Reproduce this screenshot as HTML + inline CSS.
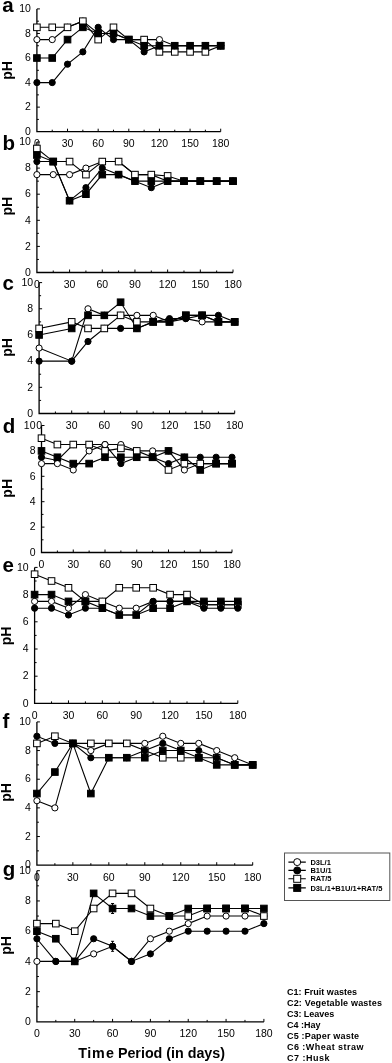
<!DOCTYPE html>
<html><head><meta charset="utf-8"><style>
html,body{margin:0;padding:0;background:#fff;}
body{width:392px;height:1063px;overflow:hidden;}
svg{display:block;filter:blur(0.3px);}
text{font-family:"Liberation Sans", sans-serif;fill:#000;}
.ax{fill:none;stroke:#000;stroke-width:1.3;}
.tk{fill:none;stroke:#000;stroke-width:1;}
.ln{fill:none;stroke:#000;stroke-width:1.1;}
.o{fill:#fff;stroke:#000;stroke-width:1;}
.k{fill:#000;stroke:#000;stroke-width:1;}
.yl{font-size:10.5px;text-anchor:end;}
.xl{font-size:10.5px;text-anchor:middle;}
.pl{font-size:20.5px;font-weight:bold;}
.ph{font-size:14px;font-weight:bold;text-anchor:middle;}
.lg{fill:#fff;stroke:#555;stroke-width:1;}
.lt{font-size:7.5px;font-weight:bold;}
.ct{font-size:9px;font-weight:bold;}
.tt{font-size:14.3px;font-weight:bold;}
</style></head><body>
<svg width="392" height="1063" viewBox="0 0 392 1063">
<path d="M36.9 8.9V131.7H220.7" class="ax"/>
<path d="M36.9 119.42h2M36.9 107.14h3M36.9 94.86h2M36.9 82.58h3M36.9 70.3h2M36.9 58.02h3M36.9 45.74h2M36.9 33.46h3M36.9 21.18h2M36.9 8.9h3M52.22 131.7v-2M67.53 131.7v-3M82.85 131.7v-2M98.17 131.7v-3M113.48 131.7v-2M128.8 131.7v-3M144.12 131.7v-2M159.43 131.7v-3M174.75 131.7v-2M190.07 131.7v-3M205.38 131.7v-2M220.7 131.7v-3" class="tk"/>
<text x="30.9" y="134.9" class="yl">0</text>
<text x="30.9" y="110.34" class="yl">2</text>
<text x="30.9" y="85.78" class="yl">4</text>
<text x="30.9" y="61.22" class="yl">6</text>
<text x="30.9" y="36.66" class="yl">8</text>
<text x="30.9" y="12.1" class="yl">10</text>
<text x="36.9" y="147.2" class="xl">0</text>
<text x="67.53" y="147.2" class="xl">30</text>
<text x="98.17" y="147.2" class="xl">60</text>
<text x="128.8" y="147.2" class="xl">90</text>
<text x="159.43" y="147.2" class="xl">120</text>
<text x="190.07" y="147.2" class="xl">150</text>
<text x="220.7" y="147.2" class="xl">180</text>
<polyline points="36.9,39.6 52.22,39.6 67.53,27.32 82.85,21.18 98.17,33.46 113.48,33.46 128.8,39.6 144.12,39.6 159.43,39.6 174.75,45.74 190.07,45.74 205.38,45.74 220.7,45.74" class="ln"/>
<polyline points="36.9,82.58 52.22,82.58 67.53,64.16 82.85,51.88 98.17,27.32 113.48,39.6 128.8,39.6 144.12,51.88 159.43,45.74 174.75,45.74 190.07,45.74 205.38,45.74 220.7,45.74" class="ln"/>
<polyline points="36.9,27.32 52.22,27.32 67.53,27.32 82.85,21.18 98.17,39.6 113.48,27.32 128.8,39.6 144.12,39.6 159.43,51.88 174.75,51.88 190.07,51.88 205.38,51.88 220.7,45.74" class="ln"/>
<polyline points="36.9,58.02 52.22,58.02 67.53,39.6 82.85,27.32 98.17,33.46 113.48,33.46 128.8,39.6 144.12,45.74 159.43,45.74 174.75,45.74 190.07,45.74 205.38,45.74 220.7,45.74" class="ln"/>
<circle cx="36.9" cy="39.6" r="3.1" class="o"/>
<circle cx="52.22" cy="39.6" r="3.1" class="o"/>
<circle cx="67.53" cy="27.32" r="3.1" class="o"/>
<circle cx="82.85" cy="21.18" r="3.1" class="o"/>
<circle cx="98.17" cy="33.46" r="3.1" class="o"/>
<circle cx="113.48" cy="33.46" r="3.1" class="o"/>
<circle cx="128.8" cy="39.6" r="3.1" class="o"/>
<circle cx="144.12" cy="39.6" r="3.1" class="o"/>
<circle cx="159.43" cy="39.6" r="3.1" class="o"/>
<circle cx="174.75" cy="45.74" r="3.1" class="o"/>
<circle cx="190.07" cy="45.74" r="3.1" class="o"/>
<circle cx="205.38" cy="45.74" r="3.1" class="o"/>
<circle cx="220.7" cy="45.74" r="3.1" class="o"/>
<rect x="33.6" y="24.02" width="6.6" height="6.6" class="o"/>
<rect x="48.92" y="24.02" width="6.6" height="6.6" class="o"/>
<rect x="64.23" y="24.02" width="6.6" height="6.6" class="o"/>
<rect x="79.55" y="17.88" width="6.6" height="6.6" class="o"/>
<rect x="94.87" y="36.3" width="6.6" height="6.6" class="o"/>
<rect x="110.18" y="24.02" width="6.6" height="6.6" class="o"/>
<rect x="125.5" y="36.3" width="6.6" height="6.6" class="o"/>
<rect x="140.82" y="36.3" width="6.6" height="6.6" class="o"/>
<rect x="156.13" y="48.58" width="6.6" height="6.6" class="o"/>
<rect x="171.45" y="48.58" width="6.6" height="6.6" class="o"/>
<rect x="186.77" y="48.58" width="6.6" height="6.6" class="o"/>
<rect x="202.08" y="48.58" width="6.6" height="6.6" class="o"/>
<rect x="217.4" y="42.44" width="6.6" height="6.6" class="o"/>
<circle cx="36.9" cy="82.58" r="3.1" class="k"/>
<circle cx="52.22" cy="82.58" r="3.1" class="k"/>
<circle cx="67.53" cy="64.16" r="3.1" class="k"/>
<circle cx="82.85" cy="51.88" r="3.1" class="k"/>
<circle cx="98.17" cy="27.32" r="3.1" class="k"/>
<circle cx="113.48" cy="39.6" r="3.1" class="k"/>
<circle cx="128.8" cy="39.6" r="3.1" class="k"/>
<circle cx="144.12" cy="51.88" r="3.1" class="k"/>
<circle cx="159.43" cy="45.74" r="3.1" class="k"/>
<circle cx="174.75" cy="45.74" r="3.1" class="k"/>
<circle cx="190.07" cy="45.74" r="3.1" class="k"/>
<circle cx="205.38" cy="45.74" r="3.1" class="k"/>
<circle cx="220.7" cy="45.74" r="3.1" class="k"/>
<rect x="33.6" y="54.72" width="6.6" height="6.6" class="k"/>
<rect x="48.92" y="54.72" width="6.6" height="6.6" class="k"/>
<rect x="64.23" y="36.3" width="6.6" height="6.6" class="k"/>
<rect x="79.55" y="24.02" width="6.6" height="6.6" class="k"/>
<rect x="94.87" y="30.16" width="6.6" height="6.6" class="k"/>
<rect x="110.18" y="30.16" width="6.6" height="6.6" class="k"/>
<rect x="125.5" y="36.3" width="6.6" height="6.6" class="k"/>
<rect x="140.82" y="42.44" width="6.6" height="6.6" class="k"/>
<rect x="156.13" y="42.44" width="6.6" height="6.6" class="k"/>
<rect x="171.45" y="42.44" width="6.6" height="6.6" class="k"/>
<rect x="186.77" y="42.44" width="6.6" height="6.6" class="k"/>
<rect x="202.08" y="42.44" width="6.6" height="6.6" class="k"/>
<rect x="217.4" y="42.44" width="6.6" height="6.6" class="k"/>
<text x="2.2" y="12.1" class="pl">a</text>
<text transform="translate(12.3 70.35) rotate(-90)" class="ph">pH</text>
<path d="M36.9 142V272.5H233" class="ax"/>
<path d="M36.9 259.45h2M36.9 246.4h3M36.9 233.35h2M36.9 220.3h3M36.9 207.25h2M36.9 194.2h3M36.9 181.15h2M36.9 168.1h3M36.9 155.05h2M36.9 142h3M53.24 272.5v-2M69.58 272.5v-3M85.92 272.5v-2M102.27 272.5v-3M118.61 272.5v-2M134.95 272.5v-3M151.29 272.5v-2M167.63 272.5v-3M183.97 272.5v-2M200.32 272.5v-3M216.66 272.5v-2M233 272.5v-3" class="tk"/>
<text x="30.9" y="275.7" class="yl">0</text>
<text x="30.9" y="249.6" class="yl">2</text>
<text x="30.9" y="223.5" class="yl">4</text>
<text x="30.9" y="197.4" class="yl">6</text>
<text x="30.9" y="171.3" class="yl">8</text>
<text x="30.9" y="145.2" class="yl">10</text>
<text x="36.9" y="288" class="xl">0</text>
<text x="69.58" y="288" class="xl">30</text>
<text x="102.27" y="288" class="xl">60</text>
<text x="134.95" y="288" class="xl">90</text>
<text x="167.63" y="288" class="xl">120</text>
<text x="200.32" y="288" class="xl">150</text>
<text x="233" y="288" class="xl">180</text>
<polyline points="36.9,174.62 53.24,174.62 69.58,174.62 85.92,168.1 102.27,161.57 118.61,161.57 134.95,174.62 151.29,174.62 167.63,181.15 183.97,181.15 200.32,181.15 216.66,181.15 233,181.15" class="ln"/>
<polyline points="36.9,161.57 53.24,161.57 69.58,200.72 85.92,187.68 102.27,168.1 118.61,174.62 134.95,181.15 151.29,187.68 167.63,181.15 183.97,181.15 200.32,181.15 216.66,181.15 233,181.15" class="ln"/>
<polyline points="36.9,148.53 53.24,161.57 69.58,161.57 85.92,174.62 102.27,161.57 118.61,161.57 134.95,174.62 151.29,174.62 167.63,175.93 183.97,181.15 200.32,181.15 216.66,181.15 233,181.15" class="ln"/>
<polyline points="36.9,155.05 53.24,161.57 69.58,200.72 85.92,194.2 102.27,174.62 118.61,174.62 134.95,181.15 151.29,181.15 167.63,181.15 183.97,181.15 200.32,181.15 216.66,181.15 233,181.15" class="ln"/>
<circle cx="36.9" cy="174.62" r="3.1" class="o"/>
<circle cx="53.24" cy="174.62" r="3.1" class="o"/>
<circle cx="69.58" cy="174.62" r="3.1" class="o"/>
<circle cx="85.92" cy="168.1" r="3.1" class="o"/>
<circle cx="102.27" cy="161.57" r="3.1" class="o"/>
<circle cx="118.61" cy="161.57" r="3.1" class="o"/>
<circle cx="134.95" cy="174.62" r="3.1" class="o"/>
<circle cx="151.29" cy="174.62" r="3.1" class="o"/>
<circle cx="167.63" cy="181.15" r="3.1" class="o"/>
<circle cx="183.97" cy="181.15" r="3.1" class="o"/>
<circle cx="200.32" cy="181.15" r="3.1" class="o"/>
<circle cx="216.66" cy="181.15" r="3.1" class="o"/>
<circle cx="233" cy="181.15" r="3.1" class="o"/>
<rect x="33.6" y="145.22" width="6.6" height="6.6" class="o"/>
<rect x="49.94" y="158.27" width="6.6" height="6.6" class="o"/>
<rect x="66.28" y="158.27" width="6.6" height="6.6" class="o"/>
<rect x="82.62" y="171.32" width="6.6" height="6.6" class="o"/>
<rect x="98.97" y="158.27" width="6.6" height="6.6" class="o"/>
<rect x="115.31" y="158.27" width="6.6" height="6.6" class="o"/>
<rect x="131.65" y="171.32" width="6.6" height="6.6" class="o"/>
<rect x="147.99" y="171.32" width="6.6" height="6.6" class="o"/>
<rect x="164.33" y="172.63" width="6.6" height="6.6" class="o"/>
<rect x="180.67" y="177.85" width="6.6" height="6.6" class="o"/>
<rect x="197.02" y="177.85" width="6.6" height="6.6" class="o"/>
<rect x="213.36" y="177.85" width="6.6" height="6.6" class="o"/>
<rect x="229.7" y="177.85" width="6.6" height="6.6" class="o"/>
<circle cx="36.9" cy="161.57" r="3.1" class="k"/>
<circle cx="53.24" cy="161.57" r="3.1" class="k"/>
<circle cx="69.58" cy="200.72" r="3.1" class="k"/>
<circle cx="85.92" cy="187.68" r="3.1" class="k"/>
<circle cx="102.27" cy="168.1" r="3.1" class="k"/>
<circle cx="118.61" cy="174.62" r="3.1" class="k"/>
<circle cx="134.95" cy="181.15" r="3.1" class="k"/>
<circle cx="151.29" cy="187.68" r="3.1" class="k"/>
<circle cx="167.63" cy="181.15" r="3.1" class="k"/>
<circle cx="183.97" cy="181.15" r="3.1" class="k"/>
<circle cx="200.32" cy="181.15" r="3.1" class="k"/>
<circle cx="216.66" cy="181.15" r="3.1" class="k"/>
<circle cx="233" cy="181.15" r="3.1" class="k"/>
<rect x="33.6" y="151.75" width="6.6" height="6.6" class="k"/>
<rect x="49.94" y="158.27" width="6.6" height="6.6" class="k"/>
<rect x="66.28" y="197.42" width="6.6" height="6.6" class="k"/>
<rect x="82.62" y="190.9" width="6.6" height="6.6" class="k"/>
<rect x="98.97" y="171.32" width="6.6" height="6.6" class="k"/>
<rect x="115.31" y="171.32" width="6.6" height="6.6" class="k"/>
<rect x="131.65" y="177.85" width="6.6" height="6.6" class="k"/>
<rect x="147.99" y="177.85" width="6.6" height="6.6" class="k"/>
<rect x="164.33" y="177.85" width="6.6" height="6.6" class="k"/>
<rect x="180.67" y="177.85" width="6.6" height="6.6" class="k"/>
<rect x="197.02" y="177.85" width="6.6" height="6.6" class="k"/>
<rect x="213.36" y="177.85" width="6.6" height="6.6" class="k"/>
<rect x="229.7" y="177.85" width="6.6" height="6.6" class="k"/>
<text x="2.4" y="149.8" class="pl">b</text>
<text transform="translate(11.6 206.1) rotate(-90)" class="ph">pH</text>
<path d="M39.1 282.6V413.5H234.7" class="ax"/>
<path d="M39.1 400.41h2M39.1 387.32h3M39.1 374.23h2M39.1 361.14h3M39.1 348.05h2M39.1 334.96h3M39.1 321.87h2M39.1 308.78h3M39.1 295.69h2M39.1 282.6h3M55.4 413.5v-2M71.7 413.5v-3M88 413.5v-2M104.3 413.5v-3M120.6 413.5v-2M136.9 413.5v-3M153.2 413.5v-2M169.5 413.5v-3M185.8 413.5v-2M202.1 413.5v-3M218.4 413.5v-2M234.7 413.5v-3" class="tk"/>
<text x="33.1" y="416.7" class="yl">0</text>
<text x="33.1" y="390.52" class="yl">2</text>
<text x="33.1" y="364.34" class="yl">4</text>
<text x="33.1" y="338.16" class="yl">6</text>
<text x="33.1" y="311.98" class="yl">8</text>
<text x="33.1" y="285.8" class="yl">10</text>
<text x="39.1" y="429" class="xl">0</text>
<text x="71.7" y="429" class="xl">30</text>
<text x="104.3" y="429" class="xl">60</text>
<text x="136.9" y="429" class="xl">90</text>
<text x="169.5" y="429" class="xl">120</text>
<text x="202.1" y="429" class="xl">150</text>
<text x="234.7" y="429" class="xl">180</text>
<polyline points="39.1,348.05 71.7,361.14 88,308.78 104.3,315.33 120.6,315.33 136.9,315.33 153.2,315.33 169.5,321.87 185.8,318.6 202.1,321.87 218.4,321.87 234.7,321.87" class="ln"/>
<polyline points="39.1,361.14 71.7,361.14 88,341.5 104.3,328.42 120.6,328.42 136.9,328.42 153.2,321.87 169.5,318.6 185.8,318.6 202.1,315.33 218.4,315.33 234.7,321.87" class="ln"/>
<polyline points="39.1,328.42 71.7,321.87 88,328.42 104.3,328.42 120.6,315.33 136.9,321.87 153.2,321.87 169.5,321.87 185.8,315.33 202.1,315.33 218.4,321.87 234.7,321.87" class="ln"/>
<polyline points="39.1,334.96 71.7,328.42 88,315.33 104.3,315.33 120.6,302.24 136.9,328.42 153.2,321.87 169.5,321.87 185.8,315.33 202.1,315.33 218.4,321.87 234.7,321.87" class="ln"/>
<circle cx="39.1" cy="348.05" r="3.1" class="o"/>
<circle cx="71.7" cy="361.14" r="3.1" class="o"/>
<circle cx="88" cy="308.78" r="3.1" class="o"/>
<circle cx="104.3" cy="315.33" r="3.1" class="o"/>
<circle cx="120.6" cy="315.33" r="3.1" class="o"/>
<circle cx="136.9" cy="315.33" r="3.1" class="o"/>
<circle cx="153.2" cy="315.33" r="3.1" class="o"/>
<circle cx="169.5" cy="321.87" r="3.1" class="o"/>
<circle cx="185.8" cy="318.6" r="3.1" class="o"/>
<circle cx="202.1" cy="321.87" r="3.1" class="o"/>
<circle cx="218.4" cy="321.87" r="3.1" class="o"/>
<circle cx="234.7" cy="321.87" r="3.1" class="o"/>
<circle cx="39.1" cy="361.14" r="3.1" class="k"/>
<circle cx="71.7" cy="361.14" r="3.1" class="k"/>
<circle cx="88" cy="341.5" r="3.1" class="k"/>
<circle cx="104.3" cy="328.42" r="3.1" class="k"/>
<circle cx="120.6" cy="328.42" r="3.1" class="k"/>
<circle cx="136.9" cy="328.42" r="3.1" class="k"/>
<circle cx="153.2" cy="321.87" r="3.1" class="k"/>
<circle cx="169.5" cy="318.6" r="3.1" class="k"/>
<circle cx="185.8" cy="318.6" r="3.1" class="k"/>
<circle cx="202.1" cy="315.33" r="3.1" class="k"/>
<circle cx="218.4" cy="315.33" r="3.1" class="k"/>
<circle cx="234.7" cy="321.87" r="3.1" class="k"/>
<rect x="35.8" y="325.12" width="6.6" height="6.6" class="o"/>
<rect x="68.4" y="318.57" width="6.6" height="6.6" class="o"/>
<rect x="84.7" y="325.12" width="6.6" height="6.6" class="o"/>
<rect x="101" y="325.12" width="6.6" height="6.6" class="o"/>
<rect x="117.3" y="312.03" width="6.6" height="6.6" class="o"/>
<rect x="133.6" y="318.57" width="6.6" height="6.6" class="o"/>
<rect x="149.9" y="318.57" width="6.6" height="6.6" class="o"/>
<rect x="166.2" y="318.57" width="6.6" height="6.6" class="o"/>
<rect x="182.5" y="312.03" width="6.6" height="6.6" class="o"/>
<rect x="198.8" y="312.03" width="6.6" height="6.6" class="o"/>
<rect x="215.1" y="318.57" width="6.6" height="6.6" class="o"/>
<rect x="231.4" y="318.57" width="6.6" height="6.6" class="o"/>
<rect x="35.8" y="331.66" width="6.6" height="6.6" class="k"/>
<rect x="68.4" y="325.12" width="6.6" height="6.6" class="k"/>
<rect x="84.7" y="312.03" width="6.6" height="6.6" class="k"/>
<rect x="101" y="312.03" width="6.6" height="6.6" class="k"/>
<rect x="117.3" y="298.94" width="6.6" height="6.6" class="k"/>
<rect x="133.6" y="325.12" width="6.6" height="6.6" class="k"/>
<rect x="149.9" y="318.57" width="6.6" height="6.6" class="k"/>
<rect x="166.2" y="318.57" width="6.6" height="6.6" class="k"/>
<rect x="182.5" y="312.03" width="6.6" height="6.6" class="k"/>
<rect x="198.8" y="312.03" width="6.6" height="6.6" class="k"/>
<rect x="215.1" y="318.57" width="6.6" height="6.6" class="k"/>
<rect x="231.4" y="318.57" width="6.6" height="6.6" class="k"/>
<text x="2.5" y="289.5" class="pl">c</text>
<text transform="translate(12 347.5) rotate(-90)" class="ph">pH</text>
<path d="M41.5 425.5V552.5H232" class="ax"/>
<path d="M41.5 539.8h2M41.5 527.1h3M41.5 514.4h2M41.5 501.7h3M41.5 489h2M41.5 476.3h3M41.5 463.6h2M41.5 450.9h3M41.5 438.2h2M41.5 425.5h3M57.38 552.5v-2M73.25 552.5v-3M89.12 552.5v-2M105 552.5v-3M120.88 552.5v-2M136.75 552.5v-3M152.62 552.5v-2M168.5 552.5v-3M184.38 552.5v-2M200.25 552.5v-3M216.12 552.5v-2M232 552.5v-3" class="tk"/>
<text x="35.5" y="555.7" class="yl">0</text>
<text x="35.5" y="530.3" class="yl">2</text>
<text x="35.5" y="504.9" class="yl">4</text>
<text x="35.5" y="479.5" class="yl">6</text>
<text x="35.5" y="454.1" class="yl">8</text>
<text x="35.5" y="428.7" class="yl">10</text>
<text x="41.5" y="568" class="xl">0</text>
<text x="73.25" y="568" class="xl">30</text>
<text x="105" y="568" class="xl">60</text>
<text x="136.75" y="568" class="xl">90</text>
<text x="168.5" y="568" class="xl">120</text>
<text x="200.25" y="568" class="xl">150</text>
<text x="232" y="568" class="xl">180</text>
<polyline points="41.5,463.6 57.38,463.6 73.25,469.95 89.12,450.9 105,444.55 120.88,444.55 136.75,450.9 152.62,450.9 168.5,450.9 184.38,469.95 200.25,463.6 216.12,463.6 232,463.6" class="ln"/>
<polyline points="41.5,457.25 57.38,460.43 73.25,444.55 89.12,444.55 105,444.55 120.88,463.6 136.75,457.25 152.62,457.25 168.5,463.6 184.38,457.25 200.25,457.25 216.12,457.25 232,457.25" class="ln"/>
<polyline points="41.5,438.2 57.38,444.55 73.25,444.55 89.12,444.55 105,450.9 120.88,448.36 136.75,450.9 152.62,457.25 168.5,469.95 184.38,463.6 200.25,463.6 216.12,463.6 232,463.6" class="ln"/>
<polyline points="41.5,450.9 57.38,457.25 73.25,463.6 89.12,463.6 105,457.25 120.88,457.25 136.75,457.25 152.62,457.25 168.5,450.9 184.38,457.25 200.25,469.95 216.12,463.6 232,463.6" class="ln"/>
<circle cx="41.5" cy="457.25" r="3.1" class="k"/>
<circle cx="57.38" cy="460.43" r="3.1" class="k"/>
<circle cx="73.25" cy="444.55" r="3.1" class="k"/>
<circle cx="89.12" cy="444.55" r="3.1" class="k"/>
<circle cx="105" cy="444.55" r="3.1" class="k"/>
<circle cx="120.88" cy="463.6" r="3.1" class="k"/>
<circle cx="136.75" cy="457.25" r="3.1" class="k"/>
<circle cx="152.62" cy="457.25" r="3.1" class="k"/>
<circle cx="168.5" cy="463.6" r="3.1" class="k"/>
<circle cx="184.38" cy="457.25" r="3.1" class="k"/>
<circle cx="200.25" cy="457.25" r="3.1" class="k"/>
<circle cx="216.12" cy="457.25" r="3.1" class="k"/>
<circle cx="232" cy="457.25" r="3.1" class="k"/>
<circle cx="41.5" cy="463.6" r="3.1" class="o"/>
<circle cx="57.38" cy="463.6" r="3.1" class="o"/>
<circle cx="73.25" cy="469.95" r="3.1" class="o"/>
<circle cx="89.12" cy="450.9" r="3.1" class="o"/>
<circle cx="105" cy="444.55" r="3.1" class="o"/>
<circle cx="120.88" cy="444.55" r="3.1" class="o"/>
<circle cx="136.75" cy="450.9" r="3.1" class="o"/>
<circle cx="152.62" cy="450.9" r="3.1" class="o"/>
<circle cx="168.5" cy="450.9" r="3.1" class="o"/>
<circle cx="184.38" cy="469.95" r="3.1" class="o"/>
<circle cx="200.25" cy="463.6" r="3.1" class="o"/>
<circle cx="216.12" cy="463.6" r="3.1" class="o"/>
<circle cx="232" cy="463.6" r="3.1" class="o"/>
<rect x="38.2" y="434.9" width="6.6" height="6.6" class="o"/>
<rect x="54.08" y="441.25" width="6.6" height="6.6" class="o"/>
<rect x="69.95" y="441.25" width="6.6" height="6.6" class="o"/>
<rect x="85.83" y="441.25" width="6.6" height="6.6" class="o"/>
<rect x="101.7" y="447.6" width="6.6" height="6.6" class="o"/>
<rect x="117.58" y="445.06" width="6.6" height="6.6" class="o"/>
<rect x="133.45" y="447.6" width="6.6" height="6.6" class="o"/>
<rect x="149.32" y="453.95" width="6.6" height="6.6" class="o"/>
<rect x="165.2" y="466.65" width="6.6" height="6.6" class="o"/>
<rect x="181.07" y="460.3" width="6.6" height="6.6" class="o"/>
<rect x="196.95" y="460.3" width="6.6" height="6.6" class="o"/>
<rect x="212.82" y="460.3" width="6.6" height="6.6" class="o"/>
<rect x="228.7" y="460.3" width="6.6" height="6.6" class="o"/>
<rect x="38.2" y="447.6" width="6.6" height="6.6" class="k"/>
<rect x="54.08" y="453.95" width="6.6" height="6.6" class="k"/>
<rect x="69.95" y="460.3" width="6.6" height="6.6" class="k"/>
<rect x="85.83" y="460.3" width="6.6" height="6.6" class="k"/>
<rect x="101.7" y="453.95" width="6.6" height="6.6" class="k"/>
<rect x="117.58" y="453.95" width="6.6" height="6.6" class="k"/>
<rect x="133.45" y="453.95" width="6.6" height="6.6" class="k"/>
<rect x="149.32" y="453.95" width="6.6" height="6.6" class="k"/>
<rect x="165.2" y="447.6" width="6.6" height="6.6" class="k"/>
<rect x="181.07" y="453.95" width="6.6" height="6.6" class="k"/>
<rect x="196.95" y="466.65" width="6.6" height="6.6" class="k"/>
<rect x="212.82" y="460.3" width="6.6" height="6.6" class="k"/>
<rect x="228.7" y="460.3" width="6.6" height="6.6" class="k"/>
<text x="2.7" y="433" class="pl">d</text>
<text transform="translate(12 488.3) rotate(-90)" class="ph">pH</text>
<path d="M34.6 567.4V703.4H237.8" class="ax"/>
<path d="M34.6 689.8h2M34.6 676.2h3M34.6 662.6h2M34.6 649h3M34.6 635.4h2M34.6 621.8h3M34.6 608.2h2M34.6 594.6h3M34.6 581h2M34.6 567.4h3M51.53 703.4v-2M68.47 703.4v-3M85.4 703.4v-2M102.33 703.4v-3M119.27 703.4v-2M136.2 703.4v-3M153.13 703.4v-2M170.07 703.4v-3M187 703.4v-2M203.93 703.4v-3M220.87 703.4v-2M237.8 703.4v-3" class="tk"/>
<text x="28.6" y="706.6" class="yl">0</text>
<text x="28.6" y="679.4" class="yl">2</text>
<text x="28.6" y="652.2" class="yl">4</text>
<text x="28.6" y="625" class="yl">6</text>
<text x="28.6" y="597.8" class="yl">8</text>
<text x="28.6" y="570.6" class="yl">10</text>
<text x="34.6" y="718.9" class="xl">0</text>
<text x="68.47" y="718.9" class="xl">30</text>
<text x="102.33" y="718.9" class="xl">60</text>
<text x="136.2" y="718.9" class="xl">90</text>
<text x="170.07" y="718.9" class="xl">120</text>
<text x="203.93" y="718.9" class="xl">150</text>
<text x="237.8" y="718.9" class="xl">180</text>
<polyline points="34.6,601.4 51.53,601.4 68.47,608.2 85.4,594.6 102.33,601.4 119.27,608.2 136.2,608.2 153.13,601.4 170.07,601.4 187,601.4 203.93,604.8 220.87,604.8 237.8,604.8" class="ln"/>
<polyline points="34.6,608.2 51.53,608.2 68.47,615 85.4,608.2 102.33,608.2 119.27,615 136.2,615 153.13,601.4 170.07,601.4 187,601.4 203.93,608.2 220.87,608.2 237.8,608.2" class="ln"/>
<polyline points="34.6,574.2 51.53,581 68.47,587.8 85.4,601.4 102.33,601.4 119.27,587.8 136.2,587.8 153.13,587.8 170.07,594.6 187,594.6 203.93,604.8 220.87,604.8 237.8,604.8" class="ln"/>
<polyline points="34.6,594.6 51.53,594.6 68.47,601.4 85.4,601.4 102.33,608.2 119.27,615 136.2,615 153.13,608.2 170.07,608.2 187,601.4 203.93,601.4 220.87,601.4 237.8,601.4" class="ln"/>
<circle cx="34.6" cy="601.4" r="3.1" class="o"/>
<circle cx="51.53" cy="601.4" r="3.1" class="o"/>
<circle cx="68.47" cy="608.2" r="3.1" class="o"/>
<circle cx="85.4" cy="594.6" r="3.1" class="o"/>
<circle cx="102.33" cy="601.4" r="3.1" class="o"/>
<circle cx="119.27" cy="608.2" r="3.1" class="o"/>
<circle cx="136.2" cy="608.2" r="3.1" class="o"/>
<circle cx="153.13" cy="601.4" r="3.1" class="o"/>
<circle cx="170.07" cy="601.4" r="3.1" class="o"/>
<circle cx="187" cy="601.4" r="3.1" class="o"/>
<circle cx="203.93" cy="604.8" r="3.1" class="o"/>
<circle cx="220.87" cy="604.8" r="3.1" class="o"/>
<circle cx="237.8" cy="604.8" r="3.1" class="o"/>
<rect x="31.3" y="570.9" width="6.6" height="6.6" class="o"/>
<rect x="48.23" y="577.7" width="6.6" height="6.6" class="o"/>
<rect x="65.17" y="584.5" width="6.6" height="6.6" class="o"/>
<rect x="82.1" y="598.1" width="6.6" height="6.6" class="o"/>
<rect x="99.03" y="598.1" width="6.6" height="6.6" class="o"/>
<rect x="115.97" y="584.5" width="6.6" height="6.6" class="o"/>
<rect x="132.9" y="584.5" width="6.6" height="6.6" class="o"/>
<rect x="149.83" y="584.5" width="6.6" height="6.6" class="o"/>
<rect x="166.77" y="591.3" width="6.6" height="6.6" class="o"/>
<rect x="183.7" y="591.3" width="6.6" height="6.6" class="o"/>
<rect x="200.63" y="601.5" width="6.6" height="6.6" class="o"/>
<rect x="217.57" y="601.5" width="6.6" height="6.6" class="o"/>
<rect x="234.5" y="601.5" width="6.6" height="6.6" class="o"/>
<circle cx="34.6" cy="608.2" r="3.1" class="k"/>
<circle cx="51.53" cy="608.2" r="3.1" class="k"/>
<circle cx="68.47" cy="615" r="3.1" class="k"/>
<circle cx="85.4" cy="608.2" r="3.1" class="k"/>
<circle cx="102.33" cy="608.2" r="3.1" class="k"/>
<circle cx="119.27" cy="615" r="3.1" class="k"/>
<circle cx="136.2" cy="615" r="3.1" class="k"/>
<circle cx="153.13" cy="601.4" r="3.1" class="k"/>
<circle cx="170.07" cy="601.4" r="3.1" class="k"/>
<circle cx="187" cy="601.4" r="3.1" class="k"/>
<circle cx="203.93" cy="608.2" r="3.1" class="k"/>
<circle cx="220.87" cy="608.2" r="3.1" class="k"/>
<circle cx="237.8" cy="608.2" r="3.1" class="k"/>
<rect x="31.3" y="591.3" width="6.6" height="6.6" class="k"/>
<rect x="48.23" y="591.3" width="6.6" height="6.6" class="k"/>
<rect x="65.17" y="598.1" width="6.6" height="6.6" class="k"/>
<rect x="82.1" y="598.1" width="6.6" height="6.6" class="k"/>
<rect x="99.03" y="604.9" width="6.6" height="6.6" class="k"/>
<rect x="115.97" y="611.7" width="6.6" height="6.6" class="k"/>
<rect x="132.9" y="611.7" width="6.6" height="6.6" class="k"/>
<rect x="149.83" y="604.9" width="6.6" height="6.6" class="k"/>
<rect x="166.77" y="604.9" width="6.6" height="6.6" class="k"/>
<rect x="183.7" y="598.1" width="6.6" height="6.6" class="k"/>
<rect x="200.63" y="598.1" width="6.6" height="6.6" class="k"/>
<rect x="217.57" y="598.1" width="6.6" height="6.6" class="k"/>
<rect x="234.5" y="598.1" width="6.6" height="6.6" class="k"/>
<text x="2.6" y="572" class="pl">e</text>
<text transform="translate(11.3 636) rotate(-90)" class="ph">pH</text>
<path d="M36.9 721.9V865.2H252.7" class="ax"/>
<path d="M36.9 850.87h2M36.9 836.54h3M36.9 822.21h2M36.9 807.88h3M36.9 793.55h2M36.9 779.22h3M36.9 764.89h2M36.9 750.56h3M36.9 736.23h2M36.9 721.9h3M54.88 865.2v-2M72.87 865.2v-3M90.85 865.2v-2M108.83 865.2v-3M126.82 865.2v-2M144.8 865.2v-3M162.78 865.2v-2M180.77 865.2v-3M198.75 865.2v-2M216.73 865.2v-3M234.72 865.2v-2M252.7 865.2v-3" class="tk"/>
<text x="30.9" y="868.4" class="yl">0</text>
<text x="30.9" y="839.74" class="yl">2</text>
<text x="30.9" y="811.08" class="yl">4</text>
<text x="30.9" y="782.42" class="yl">6</text>
<text x="30.9" y="753.76" class="yl">8</text>
<text x="30.9" y="725.1" class="yl">10</text>
<text x="36.9" y="880.7" class="xl">0</text>
<text x="72.87" y="880.7" class="xl">30</text>
<text x="108.83" y="880.7" class="xl">60</text>
<text x="144.8" y="880.7" class="xl">90</text>
<text x="180.77" y="880.7" class="xl">120</text>
<text x="216.73" y="880.7" class="xl">150</text>
<text x="252.7" y="880.7" class="xl">180</text>
<polyline points="36.9,800.72 54.88,807.88 72.87,743.39 90.85,750.56 108.83,743.39 126.82,743.39 144.8,743.39 162.78,736.23 180.77,743.39 198.75,743.39 216.73,750.56 234.72,757.73 252.7,764.89" class="ln"/>
<polyline points="36.9,736.23 54.88,743.39 72.87,743.39 90.85,757.73 108.83,757.73 126.82,757.73 144.8,750.56 162.78,743.39 180.77,750.56 198.75,750.56 216.73,757.73 234.72,764.89 252.7,764.89" class="ln"/>
<polyline points="36.9,743.39 54.88,736.23 72.87,743.39 90.85,743.39 108.83,743.39 126.82,743.39 144.8,750.56 162.78,757.73 180.77,757.73 198.75,757.73 216.73,757.73 234.72,764.89 252.7,764.89" class="ln"/>
<polyline points="36.9,793.55 54.88,772.05 72.87,743.39 90.85,793.55 108.83,757.73 126.82,757.73 144.8,757.73 162.78,750.56 180.77,750.56 198.75,757.73 216.73,764.89 234.72,764.89 252.7,764.89" class="ln"/>
<circle cx="36.9" cy="800.72" r="3.1" class="o"/>
<circle cx="54.88" cy="807.88" r="3.1" class="o"/>
<circle cx="72.87" cy="743.39" r="3.1" class="o"/>
<circle cx="90.85" cy="750.56" r="3.1" class="o"/>
<circle cx="108.83" cy="743.39" r="3.1" class="o"/>
<circle cx="126.82" cy="743.39" r="3.1" class="o"/>
<circle cx="144.8" cy="743.39" r="3.1" class="o"/>
<circle cx="162.78" cy="736.23" r="3.1" class="o"/>
<circle cx="180.77" cy="743.39" r="3.1" class="o"/>
<circle cx="198.75" cy="743.39" r="3.1" class="o"/>
<circle cx="216.73" cy="750.56" r="3.1" class="o"/>
<circle cx="234.72" cy="757.73" r="3.1" class="o"/>
<circle cx="252.7" cy="764.89" r="3.1" class="o"/>
<rect x="33.6" y="740.1" width="6.6" height="6.6" class="o"/>
<rect x="51.58" y="732.93" width="6.6" height="6.6" class="o"/>
<rect x="69.57" y="740.1" width="6.6" height="6.6" class="o"/>
<rect x="87.55" y="740.1" width="6.6" height="6.6" class="o"/>
<rect x="105.53" y="740.1" width="6.6" height="6.6" class="o"/>
<rect x="123.52" y="740.1" width="6.6" height="6.6" class="o"/>
<rect x="141.5" y="747.26" width="6.6" height="6.6" class="o"/>
<rect x="159.48" y="754.43" width="6.6" height="6.6" class="o"/>
<rect x="177.47" y="754.43" width="6.6" height="6.6" class="o"/>
<rect x="195.45" y="754.43" width="6.6" height="6.6" class="o"/>
<rect x="213.43" y="754.43" width="6.6" height="6.6" class="o"/>
<rect x="231.42" y="761.59" width="6.6" height="6.6" class="o"/>
<rect x="249.4" y="761.59" width="6.6" height="6.6" class="o"/>
<circle cx="36.9" cy="736.23" r="3.1" class="k"/>
<circle cx="54.88" cy="743.39" r="3.1" class="k"/>
<circle cx="72.87" cy="743.39" r="3.1" class="k"/>
<circle cx="90.85" cy="757.73" r="3.1" class="k"/>
<circle cx="108.83" cy="757.73" r="3.1" class="k"/>
<circle cx="126.82" cy="757.73" r="3.1" class="k"/>
<circle cx="144.8" cy="750.56" r="3.1" class="k"/>
<circle cx="162.78" cy="743.39" r="3.1" class="k"/>
<circle cx="180.77" cy="750.56" r="3.1" class="k"/>
<circle cx="198.75" cy="750.56" r="3.1" class="k"/>
<circle cx="216.73" cy="757.73" r="3.1" class="k"/>
<circle cx="234.72" cy="764.89" r="3.1" class="k"/>
<circle cx="252.7" cy="764.89" r="3.1" class="k"/>
<rect x="33.6" y="790.25" width="6.6" height="6.6" class="k"/>
<rect x="51.58" y="768.75" width="6.6" height="6.6" class="k"/>
<rect x="69.57" y="740.1" width="6.6" height="6.6" class="k"/>
<rect x="87.55" y="790.25" width="6.6" height="6.6" class="k"/>
<rect x="105.53" y="754.43" width="6.6" height="6.6" class="k"/>
<rect x="123.52" y="754.43" width="6.6" height="6.6" class="k"/>
<rect x="141.5" y="754.43" width="6.6" height="6.6" class="k"/>
<rect x="159.48" y="747.26" width="6.6" height="6.6" class="k"/>
<rect x="177.47" y="747.26" width="6.6" height="6.6" class="k"/>
<rect x="195.45" y="754.43" width="6.6" height="6.6" class="k"/>
<rect x="213.43" y="761.59" width="6.6" height="6.6" class="k"/>
<rect x="231.42" y="761.59" width="6.6" height="6.6" class="k"/>
<rect x="249.4" y="761.59" width="6.6" height="6.6" class="k"/>
<text x="2.6" y="728" class="pl">f</text>
<text transform="translate(10.6 792.4) rotate(-90)" class="ph">pH</text>
<path d="M36.9 870.7V1021.9H263.9" class="ax"/>
<path d="M36.9 1006.78h2M36.9 991.66h3M36.9 976.54h2M36.9 961.42h3M36.9 946.3h2M36.9 931.18h3M36.9 916.06h2M36.9 900.94h3M36.9 885.82h2M36.9 870.7h3M55.82 1021.9v-2M74.73 1021.9v-3M93.65 1021.9v-2M112.57 1021.9v-3M131.48 1021.9v-2M150.4 1021.9v-3M169.32 1021.9v-2M188.23 1021.9v-3M207.15 1021.9v-2M226.07 1021.9v-3M244.98 1021.9v-2M263.9 1021.9v-3" class="tk"/>
<text x="30.9" y="1025.1" class="yl">0</text>
<text x="30.9" y="994.86" class="yl">2</text>
<text x="30.9" y="964.62" class="yl">4</text>
<text x="30.9" y="934.38" class="yl">6</text>
<text x="30.9" y="904.14" class="yl">8</text>
<text x="30.9" y="873.9" class="yl">10</text>
<text x="36.9" y="1037.4" class="xl">0</text>
<text x="74.73" y="1037.4" class="xl">30</text>
<text x="112.57" y="1037.4" class="xl">60</text>
<text x="150.4" y="1037.4" class="xl">90</text>
<text x="188.23" y="1037.4" class="xl">120</text>
<text x="226.07" y="1037.4" class="xl">150</text>
<text x="263.9" y="1037.4" class="xl">180</text>
<polyline points="36.9,961.42 55.82,961.42 74.73,961.42 93.65,953.86 112.57,946.3 131.48,961.42 150.4,938.74 169.32,931.18 188.23,923.62 207.15,916.06 226.07,916.06 244.98,916.06 263.9,916.06" class="ln"/>
<polyline points="36.9,938.74 55.82,961.42 74.73,961.42 93.65,938.74 112.57,946.3 131.48,961.42 150.4,953.86 169.32,938.74 188.23,931.18 207.15,931.18 226.07,931.18 244.98,931.18 263.9,923.62" class="ln"/>
<polyline points="36.9,923.62 55.82,923.62 74.73,931.18 93.65,908.5 112.57,893.38 131.48,893.38 150.4,908.5 169.32,916.06 188.23,916.06 207.15,908.5 226.07,908.5 244.98,908.5 263.9,916.06" class="ln"/>
<polyline points="36.9,931.18 55.82,938.74 74.73,961.42 93.65,893.38 112.57,908.5 131.48,908.5 150.4,916.06 169.32,916.06 188.23,908.5 207.15,908.5 226.07,908.5 244.98,908.5 263.9,908.5" class="ln"/>
<circle cx="36.9" cy="961.42" r="3.1" class="o"/>
<circle cx="55.82" cy="961.42" r="3.1" class="o"/>
<circle cx="74.73" cy="961.42" r="3.1" class="o"/>
<circle cx="93.65" cy="953.86" r="3.1" class="o"/>
<circle cx="112.57" cy="946.3" r="3.1" class="o"/>
<circle cx="131.48" cy="961.42" r="3.1" class="o"/>
<circle cx="150.4" cy="938.74" r="3.1" class="o"/>
<circle cx="169.32" cy="931.18" r="3.1" class="o"/>
<circle cx="188.23" cy="923.62" r="3.1" class="o"/>
<circle cx="207.15" cy="916.06" r="3.1" class="o"/>
<circle cx="226.07" cy="916.06" r="3.1" class="o"/>
<circle cx="244.98" cy="916.06" r="3.1" class="o"/>
<circle cx="263.9" cy="916.06" r="3.1" class="o"/>
<rect x="33.6" y="920.32" width="6.6" height="6.6" class="o"/>
<rect x="52.52" y="920.32" width="6.6" height="6.6" class="o"/>
<rect x="71.43" y="927.88" width="6.6" height="6.6" class="o"/>
<rect x="90.35" y="905.2" width="6.6" height="6.6" class="o"/>
<rect x="109.27" y="890.08" width="6.6" height="6.6" class="o"/>
<rect x="128.18" y="890.08" width="6.6" height="6.6" class="o"/>
<rect x="147.1" y="905.2" width="6.6" height="6.6" class="o"/>
<rect x="166.02" y="912.76" width="6.6" height="6.6" class="o"/>
<rect x="184.93" y="912.76" width="6.6" height="6.6" class="o"/>
<rect x="203.85" y="905.2" width="6.6" height="6.6" class="o"/>
<rect x="222.77" y="905.2" width="6.6" height="6.6" class="o"/>
<rect x="241.68" y="905.2" width="6.6" height="6.6" class="o"/>
<rect x="260.6" y="912.76" width="6.6" height="6.6" class="o"/>
<circle cx="36.9" cy="938.74" r="3.1" class="k"/>
<circle cx="55.82" cy="961.42" r="3.1" class="k"/>
<circle cx="74.73" cy="961.42" r="3.1" class="k"/>
<circle cx="93.65" cy="938.74" r="3.1" class="k"/>
<circle cx="112.57" cy="946.3" r="3.1" class="k"/>
<circle cx="131.48" cy="961.42" r="3.1" class="k"/>
<circle cx="150.4" cy="953.86" r="3.1" class="k"/>
<circle cx="169.32" cy="938.74" r="3.1" class="k"/>
<circle cx="188.23" cy="931.18" r="3.1" class="k"/>
<circle cx="207.15" cy="931.18" r="3.1" class="k"/>
<circle cx="226.07" cy="931.18" r="3.1" class="k"/>
<circle cx="244.98" cy="931.18" r="3.1" class="k"/>
<circle cx="263.9" cy="923.62" r="3.1" class="k"/>
<rect x="33.6" y="927.88" width="6.6" height="6.6" class="k"/>
<rect x="52.52" y="935.44" width="6.6" height="6.6" class="k"/>
<rect x="71.43" y="958.12" width="6.6" height="6.6" class="k"/>
<rect x="90.35" y="890.08" width="6.6" height="6.6" class="k"/>
<rect x="109.27" y="905.2" width="6.6" height="6.6" class="k"/>
<rect x="128.18" y="905.2" width="6.6" height="6.6" class="k"/>
<rect x="147.1" y="912.76" width="6.6" height="6.6" class="k"/>
<rect x="166.02" y="912.76" width="6.6" height="6.6" class="k"/>
<rect x="184.93" y="905.2" width="6.6" height="6.6" class="k"/>
<rect x="203.85" y="905.2" width="6.6" height="6.6" class="k"/>
<rect x="222.77" y="905.2" width="6.6" height="6.6" class="k"/>
<rect x="241.68" y="905.2" width="6.6" height="6.6" class="k"/>
<rect x="260.6" y="905.2" width="6.6" height="6.6" class="k"/>
<path d="M112.57 941.3V951.3M111.07 941.3h3M111.07 951.3h3" class="tk"/>
<path d="M112.57 903.5V913.5M111.07 903.5h3M111.07 913.5h3" class="tk"/>
<text x="2.8" y="876.2" class="pl">g</text>
<text transform="translate(11.3 945.5) rotate(-90)" class="ph">pH</text>

<rect x="284.5" y="853" width="105.3" height="47.5" class="lg"/>
<path d="M288.4 862.1H305.8M288.4 870.4H305.8M288.4 878.8H305.8M288.4 887.9H305.8" class="ln"/>
<circle cx="297.2" cy="862.1" r="3.5" class="o"/>
<circle cx="297.2" cy="870.4" r="3.5" class="k"/>
<rect x="293.7" y="875.3" width="7" height="7" class="o"/>
<rect x="293.7" y="884.4" width="7" height="7" class="k"/>
<text x="310.4" y="864.6" class="lt">D3L/1</text>
<text x="310.4" y="873" class="lt">B1U/1</text>
<text x="310.4" y="881.4" class="lt">RAT/5</text>
<text x="310.4" y="890.7" class="lt" textLength="72" lengthAdjust="spacingAndGlyphs">D3L/1+B1U/1+RAT/5</text>

<text x="287" y="994.9" class="ct" textLength="70.1" lengthAdjust="spacing">C1: Fruit wastes</text>
<text x="287" y="1005.9" class="ct" textLength="94.9" lengthAdjust="spacing">C2: Vegetable wastes</text>
<text x="287" y="1016.8" class="ct" textLength="47.2" lengthAdjust="spacing">C3: Leaves</text>
<text x="287" y="1027.8" class="ct" textLength="33.5" lengthAdjust="spacing">C4 :Hay</text>
<text x="287" y="1038.7" class="ct" textLength="72.1" lengthAdjust="spacing">C5 :Paper waste</text>
<text x="287" y="1049.7" class="ct" textLength="76.4" lengthAdjust="spacing">C6 :Wheat straw</text>
<text x="287" y="1060.7" class="ct" textLength="42.6" lengthAdjust="spacing">C7 :Husk</text>
<text x="78.3" y="1057.8" class="tt" letter-spacing="0.6">Tim</text><text x="106" y="1057.8" class="tt" textLength="119" lengthAdjust="spacing">e Period (in days)</text>
</svg>
</body></html>
